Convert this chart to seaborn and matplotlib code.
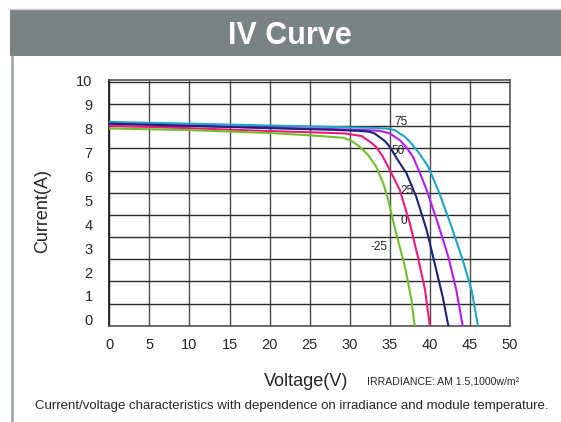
import numpy as np
import pandas as pd
import matplotlib.pyplot as plt
import seaborn as sns
from matplotlib.patches import Rectangle
from matplotlib.lines import Line2D

# Curvas IV (tensão em V, corrente em A)
temps = ["75", "50", "25", "0", "-25"]

v_75 = [0, 10, 20, 28, 33, 34.6, 35.6, 36.25, 36.9, 37.5, 38.1, 38.7, 39.8, 41.2, 42.7, 44.1, 45.2, 46.0]
i_75 = [8.26, 8.19, 8.11, 8.05, 8.01, 7.99, 7.92, 7.78, 7.64, 7.43, 7.19, 6.94, 6.39, 5.28, 3.89, 2.5, 1.25, -0.24]

v_50 = [0, 10, 20, 28, 32, 33.75, 35.0, 36.25, 37.1, 37.9, 38.7, 39.6, 41.0, 42.3, 43.3, 44.1]
i_50 = [8.17, 8.1, 8.02, 7.96, 7.92, 7.89, 7.78, 7.5, 7.19, 6.8, 6.18, 5.42, 4.03, 2.64, 1.25, -0.24]

v_25 = [0, 10, 20, 28, 31, 32.5, 33.1, 34.4, 35.0, 36.0, 37.1, 38.3, 39.6, 40.6, 41.6, 42.3]
i_25 = [8.19, 8.1, 8.0, 7.93, 7.89, 7.85, 7.78, 7.46, 7.22, 6.67, 6.11, 5.14, 3.75, 2.36, 0.97, -0.24]

v_0 = [0, 10, 20, 26, 29.4, 31.5, 32.1, 32.7, 33.3, 34.1, 34.8, 36.25, 37.5, 38.5, 39.4, 40.0]
i_0 = [8.1, 8.0, 7.88, 7.82, 7.78, 7.67, 7.53, 7.39, 7.22, 6.83, 6.39, 5.42, 4.03, 2.64, 1.25, -0.24]

v_m25 = [0, 10, 20, 26, 29.2, 30.0, 30.6, 31.26, 32.3, 33.3, 34.2, 34.8, 35.8, 36.9, 37.7, 38.1]
i_m25 = [7.99, 7.92, 7.8, 7.68, 7.6, 7.5, 7.39, 7.22, 6.88, 6.39, 5.69, 5.0, 3.61, 2.22, 0.83, -0.24]

volts = [v_75, v_50, v_25, v_0, v_m25]
amps = [i_75, i_50, i_25, i_0, i_m25]

x_ticks = list(range(0, 51, 5))
y_ticks = list(range(0, 11))

df = pd.concat(
    [pd.DataFrame({"V": v, "I": a, "T": t}) for v, a, t in zip(volts, amps, temps)],
    ignore_index=True,
)

cores = {"75": "#1ea5c8", "50": "#b41ef0", "25": "#1b2378", "0": "#ee1a7a", "-25": "#72bf2c"}
# posição dos rótulos de temperatura
pos_rotulos = {"75": (36.4, 8.26), "50": (36.1, 7.05), "25": (37.1, 5.39), "0": (36.75, 4.14), "-25": (33.6, 3.03)}

sns.set_style("white")
plt.rcParams['font.family'] = ['Liberation Sans', 'DejaVu Sans']

fig = plt.figure(figsize=(5.61, 4.22), dpi=100)
ax = fig.add_axes([109.3 / 561, 1 - 325.7 / 422, (510 - 109.3) / 561, (325.7 - 80) / 422])

# --- cabeçalho cinza ---
fig.patches.append(Rectangle((10 / 561, 1 - 56 / 422), 1, 46.7 / 422, transform=fig.transFigure,
                             facecolor="#798383", edgecolor="none", zorder=0))
fig.lines.append(Line2D([10 / 561, 1], [1 - 9 / 422] * 2, transform=fig.transFigure, color="#d0d0d0", lw=1))
fig.lines.append(Line2D([11.5 / 561] * 2, [0, 1 - 56 / 422], transform=fig.transFigure, color="#9aa2a2", lw=1.8))
fig.text(290 / 561, 1 - 44 / 422, "IV Curve", color="white", fontsize=22, fontweight="bold",
         ha="center", va="baseline")

# --- curvas ---
sns.lineplot(data=df, x="V", y="I", hue="T", palette=cores, sort=False, estimator=None,
             linewidth=1.5, legend=False, ax=ax, zorder=3)
for ln in ax.lines:
    ln.set_solid_joinstyle("round")

for t in temps:
    x, y = pos_rotulos[t]
    ax.text(x, y, t, fontsize=8.5, ha="center", va="center", color="#222222", zorder=4)

# --- eixos e grade ---
y0, y1 = -0.24, 10.01
ax.set_xlim(0, 50)
ax.set_ylim(y0, y1)
ax.set_xticks(x_ticks)
ax.set_yticks(y_ticks)
ax.set_xticklabels([str(t) for t in x_ticks], fontsize=10.5)
ax.set_yticklabels([str(t) for t in y_ticks], fontsize=10.5)
ax.set_yticks(np.linspace(y0, y0 + (325.7 - 81.7) / 24, 12), minor=True)
ax.tick_params(axis="both", which="both", length=0)
ax.tick_params(axis="x", pad=9)
ax.tick_params(axis="y", pad=12)
ax.grid(False)
ax.grid(True, which="major", axis="x", color="#4a4a4a", lw=1)
ax.grid(True, which="minor", axis="y", color="#2a2a2a", lw=1)
for s in ax.spines.values():
    s.set_color("#555555")
    s.set_linewidth(1.2)
ax.spines["left"].set_color("#111111")
ax.set_xlabel("")
ax.set_ylabel("")

fig.text(43 / 561, 1 - 211 / 422, "Current(A)", rotation=90, fontsize=13, ha="center", va="center")
fig.text(306 / 561, 1 - 385.5 / 422, "Voltage(V)", fontsize=13, ha="center", va="baseline")
fig.text(367 / 561, 1 - 385 / 422, "IRRADIANCE: AM 1.5,1000w/m²", fontsize=7.6, ha="left", va="baseline")
fig.text(292 / 561, 1 - 408.5 / 422,
         "Current/voltage characteristics with dependence on irradiance and module temperature.",
         fontsize=9.5, ha="center", va="baseline")

fig.savefig("out.png", dpi=100)
